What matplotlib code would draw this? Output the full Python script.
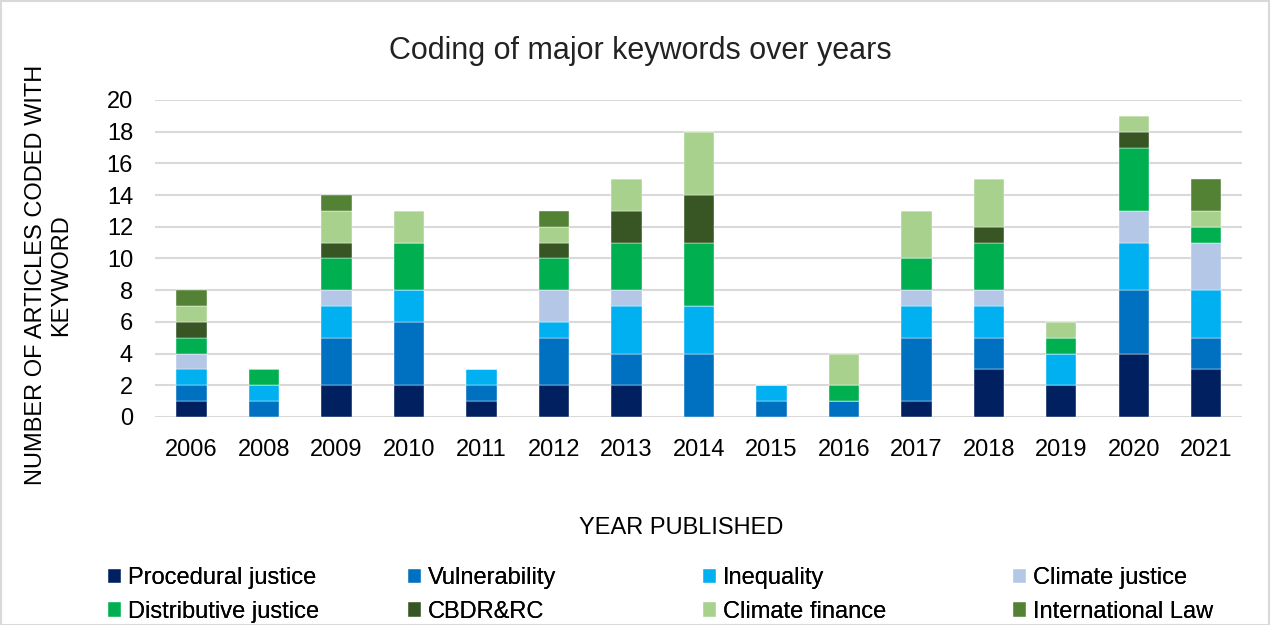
import matplotlib
matplotlib.use("Agg")
import matplotlib.pyplot as plt
import numpy as np
from matplotlib.patches import Rectangle

plt.rcParams['font.family'] = ['Liberation Sans', 'DejaVu Sans']

years = ["2006", "2008", "2009", "2010", "2011", "2012", "2013", "2014",
         "2015", "2016", "2017", "2018", "2019", "2020", "2021"]
procedural = [1, 0, 2, 2, 1, 2, 2, 0, 0, 0, 1, 3, 2, 4, 3]
vulnerability = [1, 1, 3, 4, 1, 3, 2, 4, 1, 1, 4, 2, 0, 4, 2]
inequality = [1, 1, 2, 2, 1, 1, 3, 3, 1, 0, 2, 2, 2, 3, 3]
climate_justice = [1, 0, 1, 0, 0, 2, 1, 0, 0, 0, 1, 1, 0, 2, 3]
distributive = [1, 1, 2, 3, 0, 2, 3, 4, 0, 1, 2, 3, 1, 4, 1]
cbdr = [1, 0, 1, 0, 0, 1, 2, 3, 0, 0, 0, 1, 0, 1, 0]
climate_finance = [1, 0, 2, 2, 0, 1, 2, 4, 0, 2, 3, 3, 1, 1, 1]
intl_law = [1, 0, 1, 0, 0, 1, 0, 0, 0, 0, 0, 0, 0, 0, 2]

series_names = ["Procedural justice", "Vulnerability", "Inequality", "Climate justice",
                "Distributive justice", "CBDR&RC", "Climate finance", "International Law"]
series = [procedural, vulnerability, inequality, climate_justice,
          distributive, cbdr, climate_finance, intl_law]
colors = ["#002060", "#0070C0", "#00B0F0", "#B4C7E7",
          "#00B050", "#375623", "#A9D18E", "#548235"]

FS = 17

fig = plt.figure(figsize=(12.73, 6.25), dpi=100)
ax = fig.add_axes([0.122, 0.333, 0.854, 0.507])

x = np.arange(len(years))
bottom = np.zeros(len(years))
handles = []
for name, vals, c in zip(series_names, series, colors):
    vals = np.array(vals, dtype=float)
    b = ax.bar(x, vals, 0.42, bottom=bottom, color=c, label=name,
               edgecolor='white', linewidth=0.3, zorder=3)
    handles.append(b)
    bottom += vals

ax.set_ylim(0, 20)
ax.set_xlim(-0.5, len(years) - 0.5)
ax.set_yticks(range(0, 21, 2))
ax.set_xticks(x)
ax.set_xticklabels(years)
ax.tick_params(axis='both', length=0, labelsize=FS, colors='#000000')
ax.tick_params(axis='x', pad=16)
ax.tick_params(axis='y', pad=16)
ax.grid(axis='y', color='#D9D9D9', linewidth=1.5, zorder=0)
for s in ax.spines.values():
    s.set_visible(False)

fig.text(0.503, 0.918, "Coding of major keywords over years", ha='center', va='center',
         fontsize=22, color='#222222')
fig.text(0.038, 0.56, "NUMBER OF ARTICLES CODED WITH\nKEYWORD", rotation=90,
         ha='center', va='center', fontsize=FS, linespacing=1.2, multialignment='center')
fig.text(0.535, 0.155, "YEAR PUBLISHED", ha='center', va='center', fontsize=FS)

col_x = [108, 408, 703, 1013]
for col in range(4):
    idx = [col, col + 4]
    leg = fig.legend(handles=[handles[i] for i in idx],
                     labels=[series_names[i] for i in idx],
                     loc='upper left', bbox_to_anchor=(col_x[col] / 1273, 1 - 567 / 625),
                     frameon=False, fontsize=FS, borderpad=0, borderaxespad=0,
                     handlelength=0.55, handleheight=0.55, handletextpad=0.3,
                     labelspacing=0.5)
    fig.add_artist(leg)

fig.patches.append(Rectangle((0.001, 0.0), 0.996, 0.998, transform=fig.transFigure,
                             fill=False, edgecolor='#D9D9D9', linewidth=1.5))

fig.savefig("out.png", dpi=100)
